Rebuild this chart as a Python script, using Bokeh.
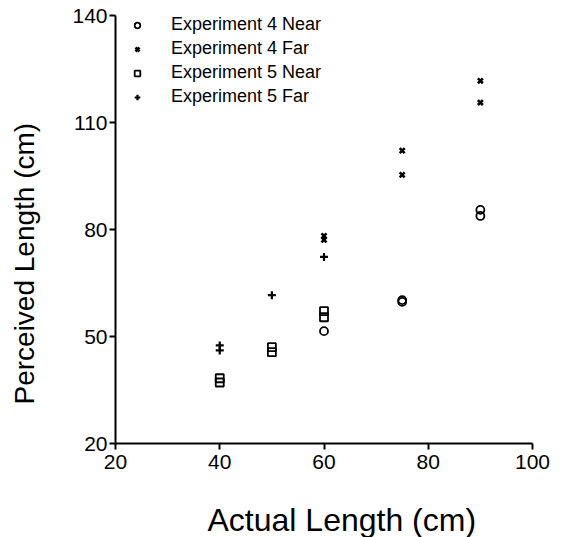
from bokeh.plotting import figure
from bokeh.models import (Legend, LegendItem, FixedTicker, Title, LinearAxis)
from bokeh.embed import file_html
from bokeh.resources import INLINE

# ---- data ----
e4_near_x = [60, 75, 75, 90, 90]
e4_near_y = [51.5, 60.2, 59.7, 85.5, 83.8]

e4_far_x = [60, 60, 75, 75, 90, 90]
e4_far_y = [78.2, 77.1, 102.1, 95.3, 121.7, 115.6]

e5_near_x = [40, 40, 50, 50, 60, 60]
e5_near_y = [38.3, 37.1, 47.0, 45.6, 57.1, 55.4]

e5_far_x = [40, 40, 50, 60]
e5_far_y = [47.5, 46.1, 61.6, 72.3]

x_ticks = [20, 40, 60, 80, 100]
y_ticks = [20, 50, 80, 110, 140]

series_labels = ["Experiment 4 Near", "Experiment 4 Far",
                 "Experiment 5 Near", "Experiment 5 Far"]
x_title = "Actual Length (cm)"
y_title = "Perceived Length (cm)"

FONT = "Liberation Sans"

W, H = 558, 537
B_LEFT, B_RIGHT, B_TOP, B_BOTTOM = 115, 26, 15, 94
p = figure(width=W, height=H, x_range=(20, 100), y_range=(20, 140),
           output_backend="svg", toolbar_location=None,
           min_border_left=B_LEFT, min_border_right=B_RIGHT,
           min_border_top=B_TOP, min_border_bottom=B_BOTTOM)
p.outline_line_color = None
p.grid.visible = False
p.background_fill_color = "white"
p.border_fill_color = "white"

for ax in (p.xaxis[0], p.yaxis[0]):
    ax.minor_tick_line_color = None
    ax.major_tick_in = 0
    ax.major_tick_out = 6
    ax.axis_line_width = 2
    ax.major_tick_line_width = 2
    ax.axis_line_color = "black"
    ax.major_tick_line_color = "black"
    ax.major_label_text_font = FONT
    ax.major_label_text_font_size = "21px"
    ax.major_label_text_color = "black"
p.xaxis.major_label_standoff = 5
p.yaxis.major_label_standoff = 2

p.xaxis.ticker = FixedTicker(ticks=x_ticks)
p.yaxis.ticker = FixedTicker(ticks=y_ticks)


def spacer(size, at):
    # a blank axis (one white tick, no line, no label) used only as padding
    return LinearAxis(ticker=FixedTicker(ticks=[at]),
                      axis_line_color=None,
                      major_tick_line_color="white", major_tick_line_width=1,
                      minor_tick_line_color=None,
                      major_tick_in=0, major_tick_out=size, minor_tick_out=0,
                      major_label_standoff=0,
                      major_label_overrides={at: ""},
                      major_label_text_color=None)


p.add_layout(spacer(28, x_ticks[-1]), "below")
p.add_layout(spacer(30, y_ticks[0]), "left")

r1 = p.scatter(e4_near_x, e4_near_y, marker="circle", size=8,
               fill_color=None, line_color="black", line_width=1.8)
r2 = p.scatter(e4_far_x, e4_far_y, marker="x", size=7,
               line_color="black", line_width=2.6)
r3 = p.scatter(e5_near_x, e5_near_y, marker="square", size=8,
               fill_color=None, line_color="black", line_width=1.8)
r4 = p.scatter(e5_far_x, e5_far_y, marker="cross", size=8,
               line_color="black", line_width=2.2)

glyph_h = 20
spacing = 3
frame_h = H - B_TOP - B_BOTTOM
leg_h = 4 * glyph_h + 3 * spacing
legend = Legend(items=[LegendItem(label=series_labels[i], renderers=[r])
                       for i, r in enumerate([r1, r2, r3, r4])],
                location=(15, frame_h - 3 - leg_h),
                glyph_width=14, glyph_height=glyph_h, label_height=glyph_h,
                label_standoff=27, spacing=spacing, padding=0, margin=0,
                border_line_color=None, background_fill_alpha=0,
                label_text_font=FONT, label_text_font_size="18px",
                label_text_color="black")
p.add_layout(legend, "center")

xt = Title(text=x_title, align="left", offset=92, standoff=0,
           text_font=FONT, text_font_size="32px", text_font_style="normal",
           text_color="black")
p.add_layout(xt, "below")
yt = Title(text=y_title, align="left", offset=39, standoff=0,
           text_font=FONT, text_font_size="28px", text_font_style="normal",
           text_color="black")
p.add_layout(yt, "left")

open("out.html", "w").write(file_html(p, INLINE))
